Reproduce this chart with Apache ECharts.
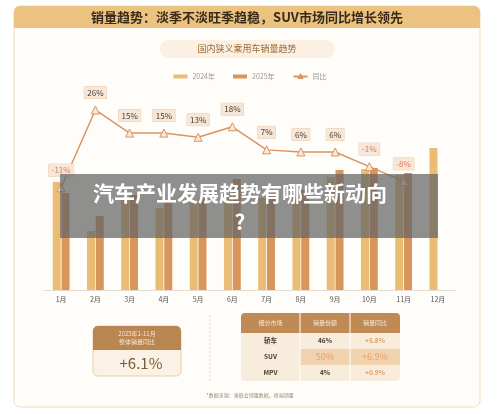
<!DOCTYPE html>
<html><head><meta charset="utf-8">
<script src="https://cdn.jsdelivr.net/npm/echarts@6/dist/echarts.min.js"></script>
<style>html,body{margin:0;padding:0;background:#fff}#c{width:500px;height:414px}</style>
</head><body><div id="c"></div>
<script>
var months=['1月','2月','3月','4月','5月','6月','7月','8月','9月','10月','11月','12月'];
var sales2024=[108,59,90,82,88,95,92,93,113,121,115,142];
var sales2025=[97,74,95,90,92,111,95,100,120,122,117,null];
var yoy=[-11,26,15,15,13,18,7,6,6,-1,-8,null];
var tableHead=['细分市场','销量份额','销量同比'];
var tableRows=[['轿车','46%','+5.8%'],['SUV','50%','+6.9%'],['MPV','4%','+0.9%']];
var F='"Noto Sans CJK SC","Noto Sans",sans-serif';
var chart=echarts.init(document.getElementById('c'));
var g=[
 {type:'rect',z:-10,shape:{x:14,y:6,width:466,height:401,r:6},style:{fill:'#fffdf9',stroke:'#f0dcc0',lineWidth:1}},
 {type:'rect',z:-9,shape:{x:14,y:6,width:466,height:22,r:[6,6,0,0]},style:{fill:'#ebc27f'}},
 {type:'text',x:247,y:17,style:{text:'销量趋势：淡季不淡旺季趋稳，SUV市场同比增长领先',font:'bold 13px '+F,fill:'#3a2a1a',align:'center',verticalAlign:'middle'}},
 {type:'rect',z:-8,shape:{x:160,y:40,width:175,height:18,r:9},style:{fill:'#fbf0e2'}},
 {type:'text',x:247,y:49,style:{text:'国内狭义乘用车销量趋势',font:'9px '+F,fill:'#9a6a3a',align:'center',verticalAlign:'middle'}},
 {type:'line',shape:{x1:210,y1:315,x2:210,y2:382},style:{stroke:'#e6d6c2',lineDash:[2,2]}},
 {type:'rect',shape:{x:93,y:326,width:88,height:50,r:5},style:{fill:'#fbf1e4',stroke:'#e8cfa8'}},
 {type:'rect',shape:{x:93,y:326,width:88,height:24,r:[5,5,0,0]},style:{fill:'#b98550'}},
 {type:'text',x:137,y:338,style:{text:'2025年1-11月\n整体销量同比',font:'6px '+F,fill:'#f7e6d0',align:'center',verticalAlign:'middle',lineHeight:8}},
 {type:'text',x:141,y:363,style:{text:'+6.1%',font:'15px '+F,fill:'#7a5a3a',align:'center',verticalAlign:'middle'}},
 {type:'text',x:250,y:395,style:{text:'*数据来源：乘联会销量数据，终端销量',font:'5px '+F,fill:'#9a8a7a',align:'center',verticalAlign:'middle'}}
];
var colX=[241,300,350],colW=[59,50,50];
g.push({type:'rect',shape:{x:241,y:313,width:159,height:68,r:4},style:{fill:'#f8ecdc'}});
g.push({type:'rect',shape:{x:241,y:313,width:159,height:20,r:[4,4,0,0]},style:{fill:'#c08a55'}});
tableHead.forEach(function(h,i){g.push({type:'text',x:colX[i]+colW[i]/2,y:323,style:{text:h,font:'6px '+F,fill:'#f8e8d4',align:'center',verticalAlign:'middle'}});});
tableRows.forEach(function(r,j){
 var y=333+j*16;
 if(j===1){g.push({type:'rect',shape:{x:300,y:y,width:100,height:16},style:{fill:'#f1d3b0'}});}
 r.forEach(function(t,i){
  var big=j===1&&i>0;
  g.push({type:'text',x:colX[i]+colW[i]/2,y:y+8,style:{text:t,font:(big?'9px ':'bold 6.5px ')+F,fill:i===2?'#e8a060':(big?'#e0a070':'#4a3a2a'),align:'center',verticalAlign:'middle'}});
 });
});
for(var i=1;i<3;i++){g.push({type:'line',shape:{x1:colX[i],y1:313,x2:colX[i],y2:381},style:{stroke:'#fff',lineWidth:1}});}
g.push({type:'rect',z:100,shape:{x:60,y:174,width:378,height:64},style:{fill:'rgba(100,100,100,0.72)'}});
g.push({type:'text',z:101,x:240,y:193,style:{text:'汽车产业发展趋势有哪些新动向',font:'bold 21px '+F,fill:'#fff',align:'center',verticalAlign:'middle'}});
g.push({type:'text',z:101,x:240,y:222,style:{text:'?',font:'bold 21px '+F,fill:'#fff',align:'center',verticalAlign:'middle'}});
var d=yoy.map(function(v){return v===null?null:(v<0?{value:v,label:{color:'#e07b5a'}}:v);});
chart.setOption({
 animation:false,
 graphic:g,
 legend:{top:68,left:'center',itemWidth:14,itemHeight:4,itemGap:18,textStyle:{fontSize:7,color:'#999',fontFamily:F},
  data:[{name:'2024年',icon:'rect'},{name:'2025年',icon:'rect'},{name:'同比'}]},
 grid:{left:44,right:45,top:90,bottom:124},
 xAxis:{type:'category',data:months,axisTick:{show:false},axisLine:{lineStyle:{color:'#e6ddd2'}},axisLabel:{fontSize:7,color:'#555',fontFamily:F,margin:6}},
 yAxis:[{type:'value',min:0,max:200,show:false},{type:'value',min:-59.7,max:35.5,show:false}],
 series:[
  {name:'2024年',type:'bar',data:sales2024,barWidth:8,barGap:'10%',itemStyle:{color:'#ebbd74'}},
  {name:'2025年',type:'bar',data:sales2025,barWidth:8,itemStyle:{color:'#d8955c'}},
  {name:'同比',type:'line',yAxisIndex:1,data:d,symbol:'triangle',symbolSize:8,
   lineStyle:{color:'#da9460',width:1.5},itemStyle:{color:'#fbe8d6',borderColor:'#da9460',borderWidth:1},
   label:{show:true,position:'top',distance:7,formatter:'{c}%',fontSize:8,fontFamily:F,color:'#4a3a2a',backgroundColor:'#f6e7d8',borderColor:'#e8cdb0',borderWidth:0.5,padding:[2,3]}}
 ]
});
</script></body></html>
